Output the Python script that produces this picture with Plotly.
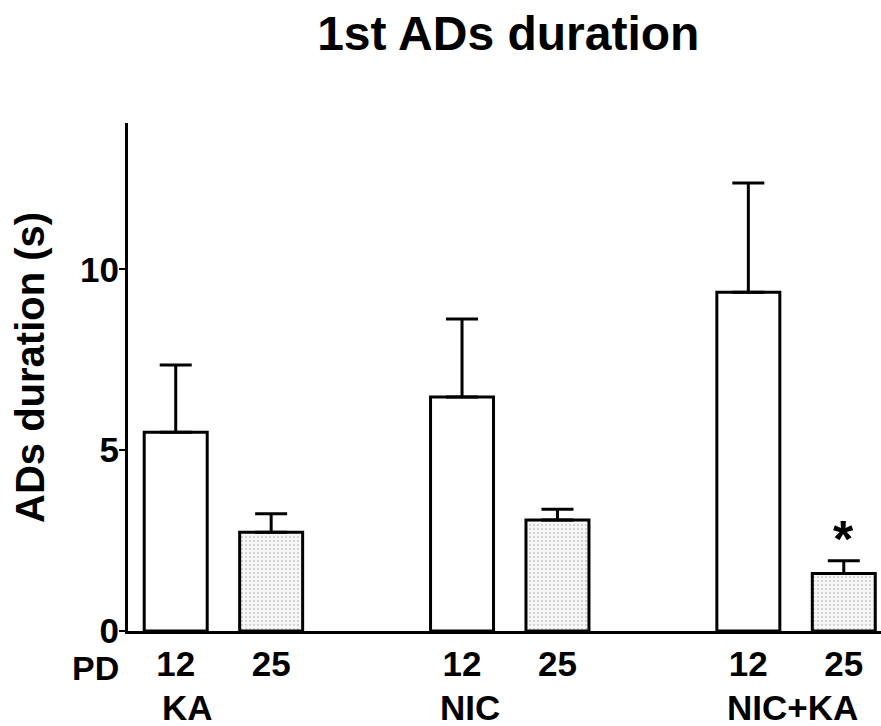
import plotly.graph_objects as go

# ---- data ----
groups = ["KA", "NIC", "NIC+KA"]
pd_days = ["12", "25"]
mean_pd12 = [5.50, 6.47, 9.37]
sem_pd12 = [1.86, 2.16, 3.02]
mean_pd25 = [2.73, 3.07, 1.59]
sem_pd25 = [0.51, 0.30, 0.35]
significant_pd25 = [False, False, True]

FONT = "Liberation Sans, Arial, sans-serif"

x12 = [3 * i for i in range(len(groups))]
x25 = [3 * i + 1 for i in range(len(groups))]
XR = [-0.5, 7.39]


def to_paper(xv):
    return (xv - XR[0]) / (XR[1] - XR[0])


fig = go.Figure()

fig.add_trace(go.Bar(
    x=x12, y=mean_pd12, width=0.66,
    marker=dict(color="white", line=dict(color="black", width=3)),
    error_y=dict(type="data", array=sem_pd12, arrayminus=[0] * len(groups),
                 symmetric=False, color="black", thickness=3, width=16),
    showlegend=False, hoverinfo="skip",
))
fig.add_trace(go.Bar(
    x=x25, y=mean_pd25, width=0.66,
    marker=dict(color="white", line=dict(color="black", width=3),
                pattern=dict(shape=".", fgcolor="#9a9a9a", bgcolor="#f6f6f6",
                             size=4, solidity=0.2)),
    error_y=dict(type="data", array=sem_pd25, arrayminus=[0] * len(groups),
                 symmetric=False, color="black", thickness=3, width=16),
    showlegend=False, hoverinfo="skip",
))

tickvals = []
ticktext = []
for a, b in zip(x12, x25):
    tickvals += [a, b]
    ticktext += pd_days

fig.update_layout(
    width=881, height=726,
    margin=dict(l=128, r=0, t=123, b=95),
    plot_bgcolor="white", paper_bgcolor="white",
    bargap=0,
    title=dict(text="1st ADs duration", x=0.505, xref="paper", xanchor="center",
               y=1 - 33 / 726, yref="container", yanchor="middle",
               font=dict(family=FONT, size=48, color="black", weight="bold")),
    xaxis=dict(range=XR, tickvals=tickvals, ticktext=ticktext,
               showline=True, linecolor="black", linewidth=3,
               ticks="", showgrid=False, zeroline=False, fixedrange=True,
               tickfont=dict(family=FONT, size=35, color="black", weight="bold")),
    yaxis=dict(range=[0, 14.05], tickvals=[0, 5, 10],
               showline=True, linecolor="black", linewidth=3,
               ticks="outside", ticklen=6, tickwidth=2, tickcolor="black",
               ticklabelstandoff=-7, fixedrange=True,
               showgrid=False, zeroline=False,
               tickfont=dict(family=FONT, size=35, color="black", weight="bold")),
    font=dict(family=FONT, color="black"),
)

# y-axis title
fig.add_annotation(text="ADs duration (s)", textangle=-90,
                   xref="paper", yref="paper", x=-0.130, y=0.518,
                   xanchor="center", yanchor="middle", showarrow=False,
                   font=dict(family=FONT, size=40, color="black", weight="bold"))

# PD row label
fig.add_annotation(text="PD", xref="paper", yref="paper", x=-0.043, y=-0.072,
                   xanchor="center", yanchor="middle", showarrow=False,
                   font=dict(family=FONT, size=34, color="black", weight="bold"))

# group labels
group_label_x = [0.12, 3.08, 6.46]
for g, gx in zip(groups, group_label_x):
    fig.add_annotation(text=g, xref="paper", yref="paper", x=to_paper(gx), y=-0.150,
                       xanchor="center", yanchor="middle", showarrow=False,
                       font=dict(family=FONT, size=35, color="black", weight="bold"))

# significance marks
for xi, m, s, sig in zip(x25, mean_pd25, sem_pd25, significant_pd25):
    if sig:
        fig.add_annotation(text="*", xref="x", yref="y", x=xi, y=m + s - 0.25,
                           xanchor="center", yanchor="bottom", showarrow=False,
                           font=dict(family=FONT, size=52, color="black", weight="bold"))

fig.write_html("out.html", config={"displayModeBar": False, "staticPlot": True},
               post_script="document.body.style.margin='0';")
